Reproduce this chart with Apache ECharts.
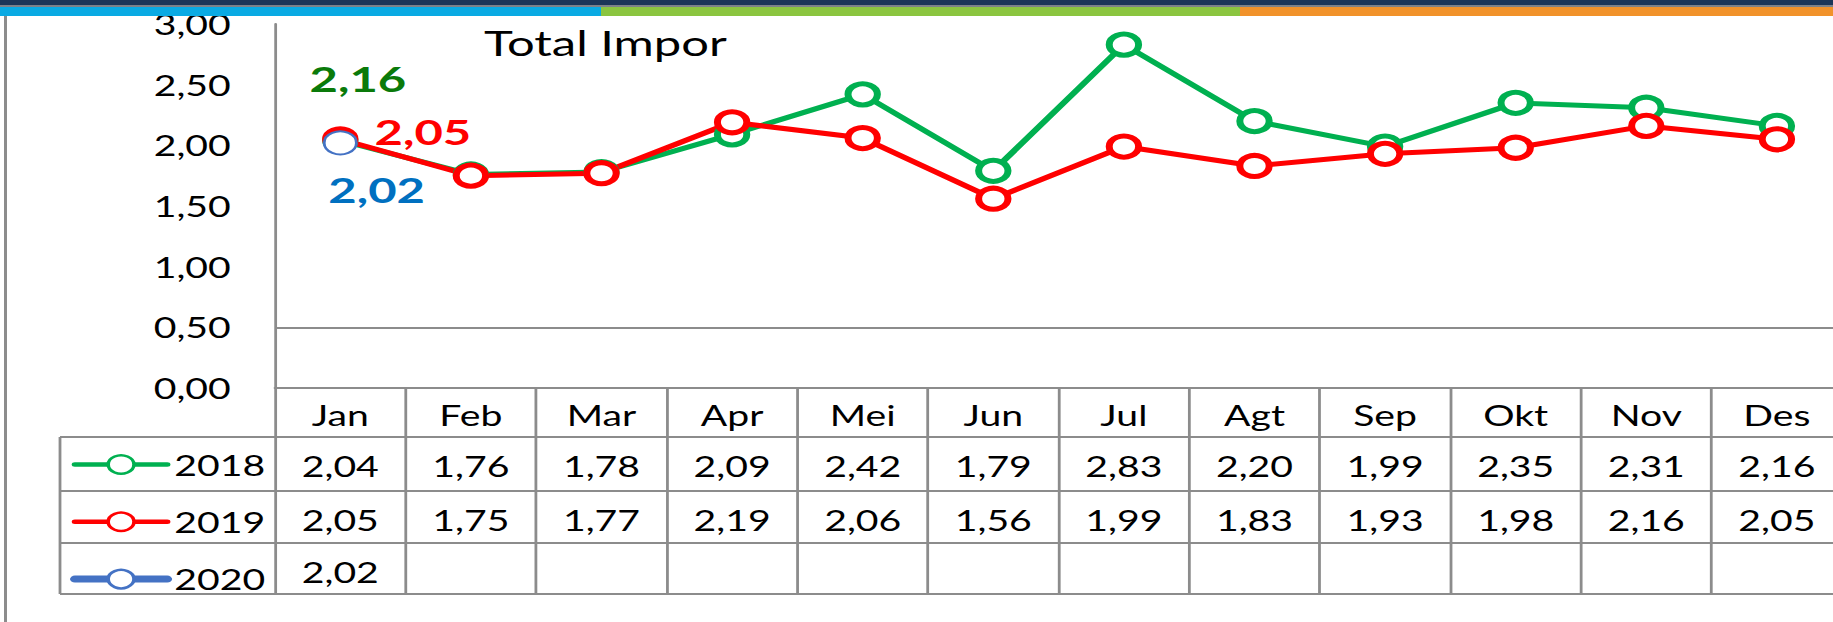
<!DOCTYPE html>
<html>
<head>
<meta charset="utf-8">
<script src="https://cdn.jsdelivr.net/npm/echarts@6.0.0/dist/echarts.min.js"></script>
<style>
  html, body { margin: 0; padding: 0; background: #fff; }
  #page { position: relative; width: 1833px; height: 622px; overflow: hidden; background: #fff; }
  #chart { position: absolute; left: 0; top: 0; height: 622px; transform-origin: 0 0; }
  .deco { position: absolute; }
</style>
</head>
<body>
<div id="page">
  <div id="chart"></div>
  <!-- slide header bar and frame -->
  <div class="deco" style="left:0;top:0;width:1833px;height:5px;background:#1c3658"></div>
  <div class="deco" style="left:0;top:5px;width:1833px;height:2px;background:#7d8289"></div>
  <div class="deco" style="left:0;top:7px;width:601px;height:9px;background:#0aaae3"></div>
  <div class="deco" style="left:601px;top:7px;width:639px;height:9px;background:#8bc540"></div>
  <div class="deco" style="left:1240px;top:7px;width:593px;height:9px;background:#f1922a"></div>
  <div class="deco" style="left:4px;top:16px;width:3px;height:606px;background:#8c8c8c"></div>
</div>
<script>
  const months = ['Jan', 'Feb', 'Mar', 'Apr', 'Mei', 'Jun', 'Jul', 'Agt', 'Sep', 'Okt', 'Nov', 'Des']
  const imp2018 = [2.04, 1.76, 1.78, 2.09, 2.42, 1.79, 2.83, 2.20, 1.99, 2.35, 2.31, 2.16]
  const imp2019 = [2.05, 1.75, 1.77, 2.19, 2.06, 1.56, 1.99, 1.83, 1.93, 1.98, 2.16, 2.05]
  const imp2020 = [2.02, null, null, null, null, null, null, null, null, null, null, null]
  const yMin = 0
  const yMax = 3
  const yStep = 0.5

  // the source picture is stretched sideways, so draw narrow and scale the box
  const STRETCH = 1.4
  const chartW = Math.ceil(1833 / STRETCH)
  const sx = 1833 / chartW
  const dom = document.getElementById('chart')
  dom.style.width = chartW + 'px'
  dom.style.transform = 'scaleX(' + sx + ')'

  const FONT = 'Lato'
  const GRAY = '#8c8c8c'
  const gridLeft = 275 / sx
  const colW = 130.6 / sx
  const gridTop = 24
  const axisY = 388
  const rowLines = [437, 491, 543, 594] // table row borders (page px)
  const legendLeft = 60 / sx

  const fmt = v => (v == null ? '' : v.toFixed(2).replace('.', ','))
  const lastOf = arr => arr.filter(v => v != null).slice(-1)[0]

  function makeSeries (name, values, color, lineW, symSize, borderW, labelColor, offset) {
    return {
      name: name,
      type: 'line',
      symbol: 'circle',
      symbolSize: symSize,
      lineStyle: { color: color, width: lineW, cap: 'round' },
      itemStyle: { color: '#fff', borderColor: color, borderWidth: borderW },
      emphasis: { disabled: true },
      label: { show: false },
      data: values.map((v, i) => {
        if (i !== 0) return v
        return {
          value: v,
          label: {
            show: true,
            position: 'inside',
            offset: offset,
            formatter: () => fmt(lastOf(values)),
            color: labelColor,
            fontFamily: FONT,
            fontSize: 35,
            fontWeight: 'bold'
          }
        }
      })
    }
  }

  function rowAxis (offset, values) {
    return {
      type: 'category',
      data: months,
      position: 'bottom',
      offset: offset,
      axisLine: { show: true, lineStyle: { color: GRAY, width: 2 } },
      axisTick: { show: false },
      axisLabel: {
        show: !!values,
        interval: 0,
        margin: 15,
        fontFamily: FONT,
        fontSize: 28,
        color: '#000',
        formatter: (v, i) => (values ? fmt(values[i]) : '')
      }
    }
  }

  const chart = echarts.init(dom, null, { renderer: 'svg' })

  const s2018 = makeSeries('2018', imp2018, '#00b050', 5, 21, 5, '#0a7a0a', [12.6, -62.5])
  s2018.markLine = {
    silent: true,
    symbol: 'none',
    label: { show: false },
    lineStyle: { color: GRAY, width: 2, type: 'solid' },
    data: [{ yAxis: 0.5 }]
  }
  const s2019 = makeSeries('2019', imp2019, '#ff0000', 5, 21, 5, '#ff0000', [59, -8])
  const s2020 = makeSeries('2020', imp2020, '#4472c4', 7, 23, 2, '#0070c0', [26, 46.5])

  // legend column borders of the data table
  const tableLines = rowLines.map(y => ({
    type: 'line',
    shape: { x1: legendLeft, y1: y, x2: gridLeft, y2: y },
    style: { stroke: GRAY, lineWidth: 2 }
  }))
  tableLines.push({
    type: 'line',
    shape: { x1: legendLeft, y1: rowLines[0], x2: legendLeft, y2: rowLines[rowLines.length - 1] },
    style: { stroke: GRAY, lineWidth: 2 }
  })

  chart.setOption({
    animation: false,
    textStyle: { fontFamily: FONT },
    title: {
      text: 'Total Impor',
      left: 484 / sx,
      top: 25,
      padding: 0,
      textStyle: { fontFamily: FONT, fontSize: 35, fontWeight: 'normal', color: '#000' }
    },
    legend: {
      orient: 'vertical',
      left: 70 / sx,
      top: 450.5,
      padding: 0,
      itemWidth: 66,
      itemHeight: 23,
      itemGap: 29.3,
      selectedMode: false,
      textStyle: { fontFamily: FONT, fontSize: 28, color: '#000', lineHeight: 23 },
      data: [
        { name: '2018', lineStyle: { width: 4.5, color: '#00b050', cap: 'round' }, itemStyle: { borderWidth: 2.5 } },
        { name: '2019', lineStyle: { width: 4.5, color: '#ff0000', cap: 'round' }, itemStyle: { borderWidth: 2.5 } },
        { name: '2020', lineStyle: { width: 7, color: '#4472c4', cap: 'round' }, itemStyle: { borderWidth: 2.5 } }
      ]
    },
    grid: {
      left: gridLeft,
      top: gridTop,
      width: colW * months.length,
      height: axisY - gridTop,
      containLabel: false,
      outerBoundsMode: 'none'
    },
    xAxis: [
      {
        type: 'category',
        data: months,
        position: 'bottom',
        axisLine: { show: true, lineStyle: { color: GRAY, width: 2 } },
        axisTick: { show: true, length: rowLines[rowLines.length - 1] - axisY, lineStyle: { color: GRAY, width: 2 } },
        axisLabel: { interval: 0, margin: 13, fontFamily: FONT, fontSize: 28, color: '#000' }
      },
      rowAxis(rowLines[0] - axisY, imp2018),
      rowAxis(rowLines[1] - axisY, imp2019),
      rowAxis(rowLines[2] - axisY, imp2020),
      rowAxis(rowLines[3] - axisY, null)
    ],
    yAxis: {
      type: 'value',
      min: yMin,
      max: yMax,
      interval: yStep,
      axisLine: { show: true, lineStyle: { color: GRAY, width: 2 } },
      axisTick: { show: false },
      splitLine: { show: false },
      axisLabel: { margin: 31.6, fontFamily: FONT, fontSize: 28, color: '#000', formatter: v => fmt(v) }
    },
    graphic: tableLines,
    series: [s2018, s2019, s2020]
  })
</script>
</body>
</html>
